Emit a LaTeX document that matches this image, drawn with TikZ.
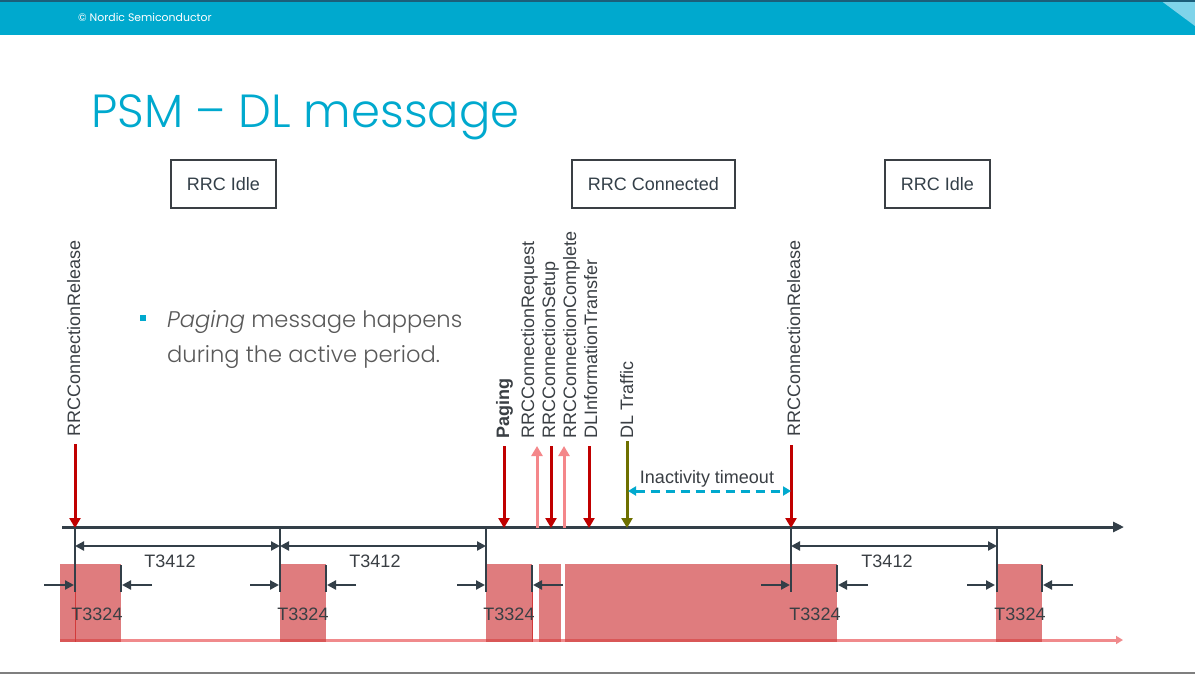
\documentclass[tikz,border=0pt]{standalone}
\usepackage{fontspec}
\setmainfont{Liberation Sans}
\newfontfamily\slidelight{Poppins Light}
\newfontfamily\slideregular{Poppins}
\usetikzlibrary{arrows.meta}

\definecolor{nordic}{HTML}{00A9CE}
\definecolor{nordicdark}{HTML}{1B5E7A}
\definecolor{nordiclight}{HTML}{7FD4EA}
\definecolor{ink}{HTML}{333F48}
\definecolor{labelgrey}{HTML}{3A3F44}
\definecolor{relred}{HTML}{C00000}
\definecolor{reqpink}{HTML}{F4878A}
\definecolor{dlolive}{HTML}{6E7000}
\definecolor{blockred}{HTML}{DF7C7E}
\definecolor{edgered}{HTML}{D23A3A}
\definecolor{bodygrey}{HTML}{595959}
\definecolor{rulegrey}{HTML}{7F7F7F}
\definecolor{tracepink}{HTML}{F08A8C}

\tikzset{
  statebox/.style={draw=labelgrey, line width=1.1pt, minimum width=#1, minimum height=48pt,
    inner sep=0pt, text=ink, font=\fontsize{18}{20}\selectfont},
  vlabel/.style={rotate=90, anchor=base west, inner sep=0pt, text=labelgrey,
    font=\fontsize{18}{20}\selectfont},
  evdown/.style={line width=3pt, -{Triangle[length=10pt,width=11pt]}},
  dimarrow/.style={draw=ink, line width=2.2pt, {Triangle[length=9pt,width=9pt]}-{Triangle[length=9pt,width=9pt]}},
  stubarrow/.style={draw=ink, line width=2.2pt, -{Triangle[length=9pt,width=9pt]}},
  tick/.style={draw=ink, line width=1.8pt},
  tlabel/.style={anchor=base, inner sep=0pt, text=labelgrey, font=\fontsize{18}{20}\selectfont},
  block/.style={fill=blockred}
}

\begin{document}
\begin{tikzpicture}[x=1pt, y=-1pt]
\useasboundingbox (0,0) rectangle (1195,675);
\fill[white] (0,0) rectangle (1195,675);

% header band
\fill[nordic] (0,0) rectangle (1195,35);
\fill[nordiclight] (1160,0) -- (1195,0) -- (1195,26) -- cycle;
\fill[nordicdark] (0,0) rectangle (1195,1.5);
\node[anchor=base west, inner sep=0pt, text=white, font=\slideregular\fontsize{10.9}{12}\selectfont]
  (hdr) at (78,21) {© Nordic Semiconductor};

% title
\node[anchor=base west, inner sep=0pt, text=nordic, font=\slidelight\fontsize{46.5}{54}\selectfont]
  (title) at (91,127) {PSM – DL message};

% RRC state boxes
\node[statebox=105pt] (idle1) at (223.5,184) {RRC Idle};
\node[statebox=163pt] (conn) at (653.5,184) {RRC Connected};
\node[statebox=105pt] (idle2) at (937.5,184) {RRC Idle};

% bullet text
\fill[nordic] (140,315) rectangle (146,321);
\node[anchor=base west, inner sep=0pt, text=bodygrey, font=\slidelight\fontsize{22.6}{26}\selectfont]
  (bul1) at (167,327) {\textit{Paging} message happens};
\node[anchor=base west, inner sep=0pt, text=bodygrey, font=\slidelight\fontsize{22.6}{26}\selectfont]
  (bul2) at (167,362) {during the active period.};

% lower trace (power consumption) with active blocks
\fill[block] (60,564) rectangle (121,642);
\fill[block] (280,564) rectangle (326,642);
\fill[block] (486,564) rectangle (532,642);
\fill[block] (539,564) rectangle (561,642);
\fill[block] (565,564) rectangle (837,642);
\fill[block] (996,564) rectangle (1042,642);
\coordinate (pw0) at (60,640);
\coordinate (pw1) at (1123,640);
\draw[tracepink, line width=3pt, -{Triangle[length=7pt,width=8pt]}] (pw0) -- (pw1);
\foreach \a/\b in {60/121, 280/326, 486/532, 539/561, 565/837, 996/1042}
  \fill[edgered!85!white] (\a,638.5) rectangle (\b,641.5);
\coordinate (e1a) at (75,592); \coordinate (e1b) at (75,642);
\coordinate (e2a) at (532,592); \coordinate (e2b) at (532,642);
\draw[edgered, line width=1pt] (e1a) -- (e1b);
\draw[edgered, line width=1pt] (e2a) -- (e2b);

% main time line
\coordinate (tl0) at (62,527);
\coordinate (tl1) at (1124,527);
\draw[ink, line width=3pt, -{Triangle[length=11pt,width=10pt]}] (tl0) -- (tl1);

% event labels
\node[vlabel] (lrel1) at (80,437) {RRCConnectionRelease};
\node[vlabel, font=\bfseries\fontsize{18}{20}\selectfont] (lpag) at (509,439) {Paging};
\node[vlabel] (lreq) at (534,439) {RRCConnectionRequest};
\node[vlabel] (lset) at (555,439) {RRCConnectionSetup};
\node[vlabel] (lcom) at (576,439) {RRCConnectionComplete};
\node[vlabel] (ldli) at (597,439) {DLInformationTransfer};
\node[vlabel] (ldlt) at (633,439) {DL Traffic};
\node[vlabel] (lrel2) at (800,437) {RRCConnectionRelease};

% event arrows
\coordinate (arel1) at (75,444);  \coordinate (brel1) at (75,528);
\coordinate (apag) at (504,446);  \coordinate (bpag) at (504,528);
\coordinate (areq) at (537,528);  \coordinate (breq) at (537,446);
\coordinate (aset) at (551,446);  \coordinate (bset) at (551,528);
\coordinate (acom) at (564,528);  \coordinate (bcom) at (564,446);
\coordinate (adli) at (589,446);  \coordinate (bdli) at (589,528);
\coordinate (adlt) at (627,441);  \coordinate (bdlt) at (627,528);
\coordinate (arel2) at (791,445); \coordinate (brel2) at (791,528);
\draw[evdown, relred] (arel1) -- (brel1);
\draw[evdown, relred] (apag) -- (bpag);
\draw[evdown, reqpink] (areq) -- (breq);
\draw[evdown, relred] (aset) -- (bset);
\draw[evdown, reqpink] (acom) -- (bcom);
\draw[evdown, relred] (adli) -- (bdli);
\draw[evdown, dlolive] (adlt) -- (bdlt);
\draw[evdown, relred] (arel2) -- (brel2);

% inactivity timer
\coordinate (ina) at (628,491);
\coordinate (inb) at (791,491);
\draw[nordic, line width=3pt, dash pattern=on 9pt off 6pt,
  {Triangle[length=8pt,width=9pt]}-{Triangle[length=8pt,width=9pt]}] (ina) -- (inb);
\node[tlabel] (inlab) at (707,483) {Inactivity timeout};

% T3412 periods
\coordinate (p1) at (75,546);  \coordinate (p2) at (280,546);
\coordinate (p3) at (486,546); \coordinate (p4) at (791,546);
\coordinate (p5) at (997,546);
\draw[dimarrow] (p1) -- (p2);
\draw[dimarrow] (p2) -- (p3);
\draw[dimarrow] (p4) -- (p5);
\node[tlabel] (t3412a) at (170,567) {T3412};
\node[tlabel] (t3412b) at (375,567) {T3412};
\node[tlabel] (t3412c) at (887,567) {T3412};

% long ticks
\foreach \x [count=\i] in {75,280,486,791,997} {
  \coordinate (lt\i a) at (\x,527);
  \coordinate (lt\i b) at (\x,592);
  \draw[tick] (lt\i a) -- (lt\i b);
}
% short ticks at end of T3324
\foreach \x [count=\i] in {121,326,532,837,1042} {
  \coordinate (st\i a) at (\x,565);
  \coordinate (st\i b) at (\x,592);
  \draw[tick] (st\i a) -- (st\i b);
}

% T3324 windows
\foreach \s/\e/\r/\q/\c [count=\i] in {44/75/152/121/97, 250/280/356/326/303, 457/486/563/532/509,
                                      761/791/868/837/815, 967/996/1073/1042/1020} {
  \coordinate (ws\i) at (\s,585);
  \coordinate (we\i) at (\e-1,585);
  \coordinate (rs\i) at (\r,585);
  \coordinate (re\i) at (\q+1,585);
  \draw[stubarrow] (ws\i) -- (we\i);
  \draw[stubarrow] (rs\i) -- (re\i);
  \node[tlabel] (t3324\i) at (\c,620) {T3324};
}

% footer rule
\coordinate (f0) at (0,673);
\coordinate (f1) at (1195,673);
\draw[rulegrey, line width=2pt] (f0) -- (f1);
\end{tikzpicture}
\end{document}
